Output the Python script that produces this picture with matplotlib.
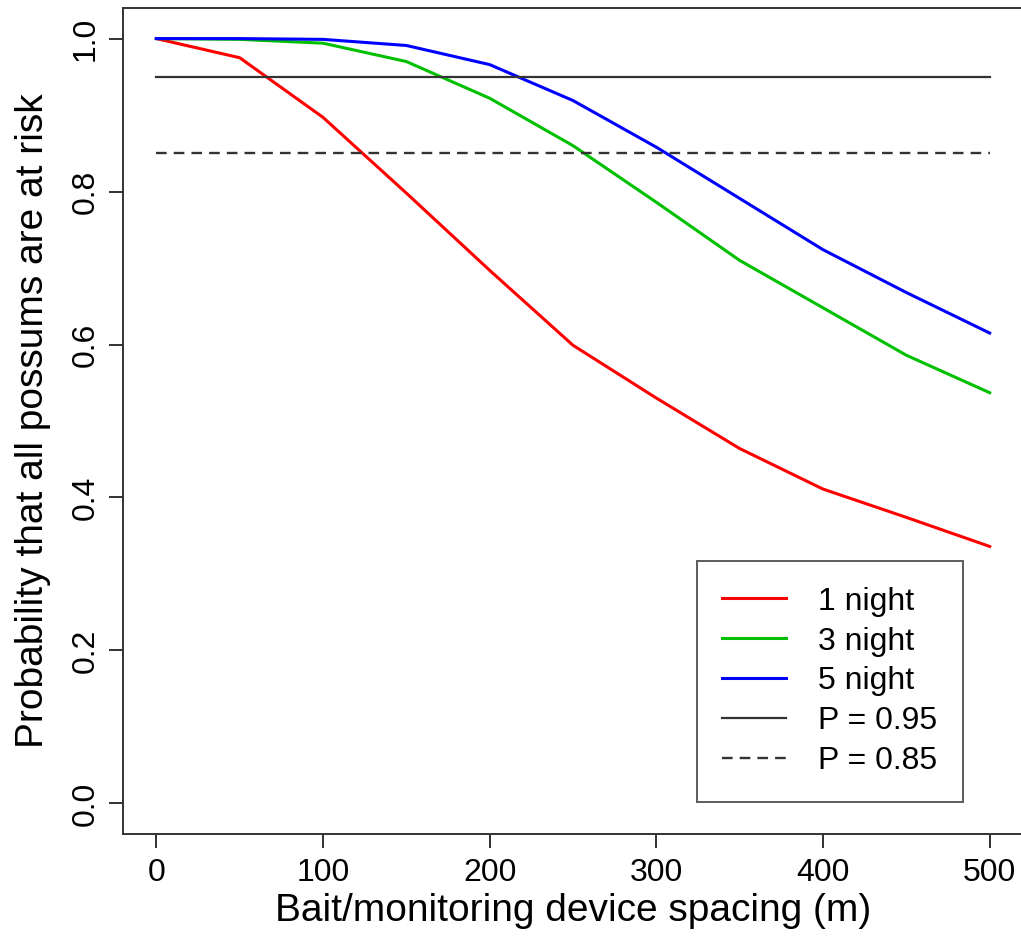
import numpy as np
import matplotlib
matplotlib.use("Agg")
import matplotlib.pyplot as plt

plt.rcParams['font.family'] = ['Liberation Sans', 'DejaVu Sans']

# spacing (m) and probabilities
spacing = [0, 50, 100, 150, 200, 250, 300, 350, 400, 450, 500]
night1 = [1.000, 0.975, 0.897, 0.798, 0.697, 0.599, 0.530, 0.464, 0.411, 0.374, 0.336]
night3 = [1.000, 0.999, 0.994, 0.970, 0.922, 0.860, 0.786, 0.710, 0.648, 0.586, 0.537]
night5 = [1.000, 1.000, 0.999, 0.991, 0.966, 0.919, 0.858, 0.791, 0.724, 0.668, 0.615]
p_hi = 0.95
p_lo = 0.85

fig = plt.figure(figsize=(10.21, 9.39), dpi=100)
ax = fig.add_axes([123/1021, 1 - 834/939, 900/1021, 826/939])

ax.plot(spacing, night1, color='red', lw=2.2, label='1 night')
ax.plot(spacing, night3, color='#00c000', lw=2.2, label='3 night')
ax.plot(spacing, night5, color='blue', lw=2.2, label='5 night')
ax.plot([0, 500], [p_hi, p_hi], color='#333333', lw=1.6, label='P = 0.95')
ax.plot([0, 500], [p_lo, p_lo], color='#333333', lw=1.7, ls=(0, (4.5, 3)), label='P = 0.85')

ax.set_xlim(-20, 520)
ax.set_ylim(-0.04, 1.04)
ax.set_xticks([0, 100, 200, 300, 400, 500])
ax.set_yticks([0.0, 0.2, 0.4, 0.6, 0.8, 1.0])
ax.set_yticklabels(['0.0', '0.2', '0.4', '0.6', '0.8', '1.0'], rotation=90, va='center')
ax.tick_params(direction='out', length=10, width=1.3, labelsize=23, colors='#222222',
               labelcolor='black')
ax.tick_params(axis='x', pad=7)
ax.tick_params(axis='y', pad=6)
for s in ax.spines.values():
    s.set_linewidth(1.4)
    s.set_color('#333333')

ax.set_xlabel('Bait/monitoring device spacing (m)', fontsize=28)
ax.set_ylabel('Probability that all possums are at risk', fontsize=28)
ax.xaxis.set_label_coords(0.5, -0.072)
ax.yaxis.set_label_coords(-0.08, 0.5)

leg = ax.legend(loc='lower right', bbox_to_anchor=(0.933, 0.039), fontsize=23,
                frameon=True, fancybox=False, edgecolor='#333333', handlelength=2.0,
                handletextpad=1.0, borderpad=0.8, labelspacing=0.31, borderaxespad=0)
leg.get_frame().set_linewidth(1.4)

fig.savefig('out.png', dpi=100)
